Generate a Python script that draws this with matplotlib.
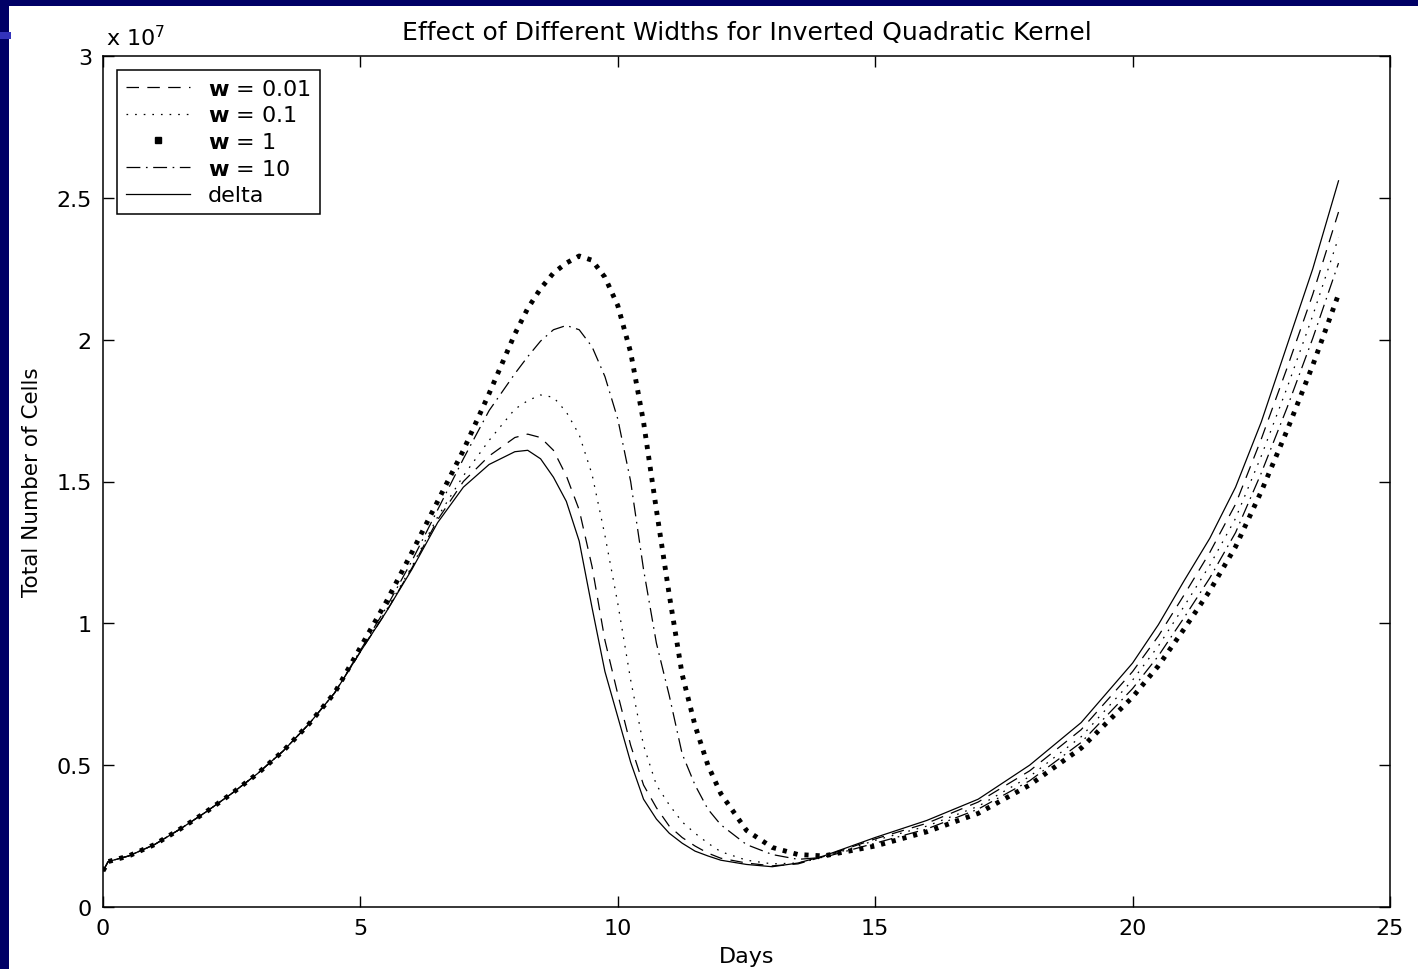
import numpy as np
import matplotlib
matplotlib.use('Agg')
import matplotlib.pyplot as plt
from matplotlib.patches import Rectangle
from matplotlib.lines import Line2D

plt.rcParams['font.family'] = ['DejaVu Sans']
plt.rcParams['mathtext.fontset'] = 'dejavusans'
plt.rcParams['lines.scale_dashes'] = False

################################################################################
# values, total cells in units of 1e7
days = [0, 0.1, 0.5, 1, 1.5, 2, 2.5, 3, 3.5, 4, 4.5, 5, 5.5, 6, 6.5, 7, 7.5,
        8, 8.25, 8.5, 8.75, 9, 9.25, 9.5, 9.75, 10, 10.25, 10.5, 10.75, 11,
        11.25, 11.5, 11.75, 12, 12.5, 13, 13.5, 14, 15, 16, 17, 18, 19, 20,
        20.5, 21, 21.5, 22, 22.5, 23, 23.5, 24]

w001 = [0.127, 0.16, 0.18, 0.22, 0.275, 0.335, 0.40, 0.47, 0.55, 0.645, 0.755,
        0.90, 1.04, 1.195, 1.365, 1.50, 1.59,
        1.655, 1.667, 1.655, 1.61, 1.52, 1.40, 1.20, 0.94, 0.75, 0.57, 0.43, 0.35, 0.285,
        0.245, 0.215, 0.19, 0.172, 0.155, 0.145, 0.152, 0.178, 0.24, 0.295, 0.37, 0.48, 0.625, 0.83,
        0.955, 1.10, 1.25, 1.42, 1.65, 1.90, 2.16, 2.45]

w01 = [0.127, 0.16, 0.18, 0.22, 0.275, 0.335, 0.40, 0.47, 0.55, 0.645, 0.755,
       0.90, 1.045, 1.20, 1.375, 1.52, 1.645,
       1.755, 1.785, 1.805, 1.797, 1.745, 1.665, 1.525, 1.31, 1.07, 0.80, 0.57, 0.43, 0.36,
       0.30, 0.26, 0.225, 0.195, 0.165, 0.152, 0.155, 0.175, 0.235, 0.285, 0.355, 0.46, 0.60, 0.80,
       0.92, 1.06, 1.205, 1.37, 1.59, 1.83, 2.085, 2.36]

w1 = [0.127, 0.16, 0.18, 0.22, 0.275, 0.335, 0.40, 0.47, 0.55, 0.645, 0.755,
      0.915, 1.075, 1.25, 1.43, 1.61, 1.81,
      2.02, 2.11, 2.18, 2.235, 2.27, 2.295, 2.28, 2.22, 2.12, 1.955, 1.71, 1.40, 1.10,
      0.82, 0.64, 0.50, 0.40, 0.27, 0.21, 0.185, 0.18, 0.215, 0.265, 0.33, 0.43, 0.56, 0.74,
      0.85, 0.98, 1.115, 1.27, 1.465, 1.68, 1.91, 2.16]

w10 = [0.127, 0.16, 0.18, 0.22, 0.275, 0.335, 0.40, 0.47, 0.55, 0.645, 0.755,
       0.905, 1.055, 1.22, 1.40, 1.58, 1.75,
       1.88, 1.94, 1.995, 2.035, 2.05, 2.035, 1.975, 1.87, 1.72, 1.50, 1.19, 0.93, 0.745,
       0.54, 0.43, 0.345, 0.29, 0.22, 0.185, 0.168, 0.175, 0.225, 0.275, 0.345, 0.445, 0.58, 0.77,
       0.885, 1.02, 1.16, 1.32, 1.53, 1.76, 2.005, 2.27]

delta = [0.127, 0.16, 0.18, 0.22, 0.275, 0.335, 0.40, 0.47, 0.55, 0.645, 0.755,
         0.90, 1.04, 1.19, 1.355, 1.48, 1.56,
         1.605, 1.61, 1.58, 1.515, 1.43, 1.29, 1.055, 0.83, 0.67, 0.51, 0.38, 0.31, 0.26,
         0.225, 0.197, 0.18, 0.165, 0.15, 0.142, 0.155, 0.18, 0.245, 0.305, 0.38, 0.50, 0.65, 0.86,
         0.995, 1.15, 1.30, 1.48, 1.71, 1.98, 2.25, 2.56]

labels = [r'$\mathbf{w}$ = 0.01', r'$\mathbf{w}$ = 0.1', r'$\mathbf{w}$ = 1',
          r'$\mathbf{w}$ = 10', 'delta']

xticks = [0, 5, 10, 15, 20, 25]
yticks = [0, 0.5, 1, 1.5, 2, 2.5, 3]
ytick_labels = ['0', '0.5', '1', '1.5', '2', '2.5', '3']

################################################################################
W, H = 1418, 970
fig = plt.figure(figsize=(W/100., H/100.), dpi=100)
fig.patch.set_facecolor('white')

# slide background strips
fig.add_artist(Rectangle((0, 0), 9./W, 1, transform=fig.transFigure,
                         facecolor='#000066', edgecolor='none'))
fig.add_artist(Rectangle((0, 1-7./H), 1, 7./H, transform=fig.transFigure,
                         facecolor='#000066', edgecolor='none'))
fig.add_artist(Rectangle((0, 1-40./H), 11./W, 7./H, transform=fig.transFigure,
                         facecolor='#3333bb', edgecolor='none'))

ax = fig.add_axes([103./W, 1-908./H, (1390-103.)/W, (908-57.)/H])

fs = 16
lw = 0.9
l1, = ax.plot(days, w001, color='k', lw=lw, linestyle=(0, (9, 6)))
l2, = ax.plot(days, w01, color='k', lw=lw, linestyle=(0, (1.2, 5)))
l3, = ax.plot(days, w1, color='k', lw=3.5, linestyle=(0, (3, 5)))
l4, = ax.plot(days, w10, color='k', lw=lw, linestyle=(0, (10, 4, 1.2, 4)))
l5, = ax.plot(days, delta, color='k', lw=lw, linestyle='-')

ax.set_xlim(0, 25)
ax.set_ylim(0, 3)
ax.set_xticks(xticks)
ax.set_xticklabels([str(x) for x in xticks])
ax.set_yticks(yticks)
ax.set_yticklabels(ytick_labels)
ax.tick_params(direction='in', length=8, width=1, top=True, right=True,
               labelsize=fs, pad=8, colors='k')
for sp in ax.spines.values():
    sp.set_linewidth(1.1)

ax.set_title('Effect of Different Widths for Inverted Quadratic Kernel',
             fontsize=18, pad=12)
ax.set_xlabel('Days', fontsize=fs, labelpad=6)
ax.set_ylabel('Total Number of Cells', fontsize=fs - 0.5, labelpad=10)
ax.text(0.002, 1.008, r'x 10$^7$', transform=ax.transAxes, fontsize=fs,
        ha='left', va='bottom')

# legend, w=1 shown as single square
sq = Line2D([], [], color='k', marker='s', markersize=4.5, linestyle='none')
leg = ax.legend([l1, l2, sq, l4, l5], labels, loc='upper left', fontsize=fs,
                handlelength=2.9, labelspacing=0.3, borderaxespad=0.62,
                fancybox=False, framealpha=1, edgecolor='k',
                borderpad=0.4, handletextpad=0.8)
leg.get_frame().set_linewidth(1.1)

plt.savefig('out.png', dpi=100)
